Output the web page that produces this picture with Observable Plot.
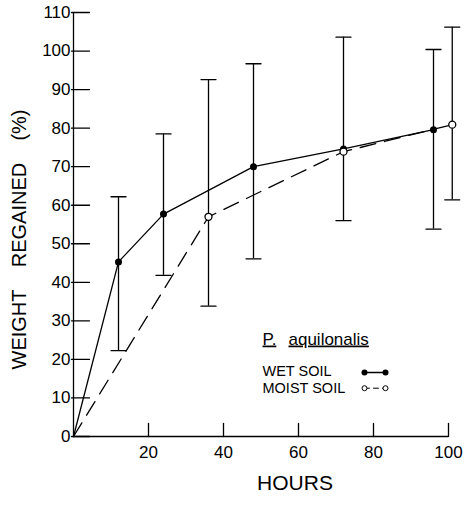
<!DOCTYPE html>
<html><head><meta charset="utf-8">
<script src="https://cdn.jsdelivr.net/npm/d3@7"></script>
<script src="https://cdn.jsdelivr.net/npm/@observablehq/plot@0.6"></script>
<style>body{margin:0;background:#fff}</style>
</head><body><div id="chart"></div>
<script>
// Wet soil series (filled circles, solid line)
const wetHours = [0, 12, 24, 48, 72, 96];
const wetRegained = [0, 45.3, 57.7, 70.0, 74.6, 79.6];
// Moist soil series (open circles, dashed line)
const moistHours = [0, 36, 72, 101];
const moistRegained = [0, 57.0, 73.9, 80.9];
// Error bars
const errHours = [12, 24, 36, 48, 72, 96, 101];
const errLow = [22.3, 41.8, 33.8, 46.1, 56.0, 53.8, 61.4];
const errHigh = [62.2, 78.5, 92.6, 96.7, 103.6, 100.4, 106.2];
// Ticks
const xTicks = [20, 40, 60, 80, 100];
const yTicks = [0, 10, 20, 30, 40, 50, 60, 70, 80, 90, 100, 110];

const wet = wetHours.map((h, i) => ({h, v: wetRegained[i]}));
const moist = moistHours.map((h, i) => ({h, v: moistRegained[i]}));
const errs = errHours.map((h, i) => ({h, lo: errLow[i], hi: errHigh[i]}));

const lineShape = {draw(context, l) { context.moveTo(0, 0); context.lineTo(0, -l); }};
const font = "'Liberation Sans', Arial, sans-serif";
const sw = 1.3;
const gap = "\u00a0\u00a0\u00a0\u00a0";

const plot = Plot.plot({
  width: 466, height: 508,
  marginLeft: 73, marginRight: 18, marginTop: 12, marginBottom: 72,
  style: {fontFamily: font, background: "white", color: "black"},
  x: {domain: [0, 100]},
  y: {domain: [0, 110]},
  marks: [
    // axis lines
    Plot.ruleX([0], {stroke: "black", strokeWidth: sw}),
    Plot.ruleY([0], {stroke: "black", strokeWidth: sw}),
    // inward ticks
    Plot.vector(yTicks, {x: 0, y: d => d, rotate: 90, length: 18, anchor: "start", dx: -2, shape: lineShape, stroke: "black", strokeWidth: sw}),
    Plot.vector(xTicks, {x: d => d, y: 0, rotate: 0, length: 13, anchor: "start", shape: lineShape, stroke: "black", strokeWidth: sw}),
    // tick labels
    Plot.axisY(yTicks, {tickSize: 0, tickPadding: 3, fontSize: 17, tickFormat: d => d, label: null}),
    Plot.axisX(xTicks, {tickSize: 0, tickPadding: 9, fontSize: 17, tickFormat: d => d, label: null}),
    // axis titles
    Plot.text(["HOURS"], {text: d => d, frameAnchor: "bottom", lineAnchor: "middle", textAnchor: "middle", dx: 34, dy: 47, fontSize: 21}),
    Plot.text(["WEIGHT" + gap + "REGAINED" + gap + "(%)"], {text: d => d, frameAnchor: "left", lineAnchor: "middle", textAnchor: "middle", rotate: -90, dx: -54, dy: 15, fontSize: 20}),
    // error bars
    Plot.ruleX(errs, {x: "h", y1: "lo", y2: "hi", stroke: "black", strokeWidth: sw}),
    Plot.vector(errs, {x: "h", y: "lo", rotate: 90, length: 15, anchor: "middle", shape: lineShape, stroke: "black", strokeWidth: sw}),
    Plot.vector(errs, {x: "h", y: "hi", rotate: 90, length: 15, anchor: "middle", shape: lineShape, stroke: "black", strokeWidth: sw}),
    // lines
    Plot.line(wet, {x: "h", y: "v", stroke: "black", strokeWidth: sw}),
    Plot.line(moist, {x: "h", y: "v", stroke: "black", strokeWidth: sw, strokeDasharray: "16,9"}),
    // points
    Plot.dot(wet, {x: "h", y: "v", r: 3.5, fill: "black", filter: d => d.h > 0}),
    Plot.dot(moist, {x: "h", y: "v", r: 3.5, fill: "white", stroke: "black", strokeWidth: sw, filter: d => d.h > 0}),
    // legend
    Plot.text(["P."], {text: d => d, frameAnchor: "top-left", lineAnchor: "middle", dx: 189, dy: 326.6, textAnchor: "start", fontSize: 17}),
    Plot.text(["aquilonalis"], {text: d => d, frameAnchor: "top-left", lineAnchor: "middle", dx: 215, dy: 326.6, textAnchor: "start", fontSize: 17}),
    Plot.text(["WET SOIL"], {text: d => d, frameAnchor: "top-left", lineAnchor: "middle", dx: 189, dy: 359.1, textAnchor: "start", fontSize: 14.5}),
    Plot.text(["MOIST SOIL"], {text: d => d, frameAnchor: "top-left", lineAnchor: "middle", dx: 189, dy: 375.4, textAnchor: "start", fontSize: 14.5}),
    Plot.vector([0], {frameAnchor: "top-left", dx: 291, dy: 360, rotate: 90, length: 21, anchor: "start", shape: lineShape, stroke: "black", strokeWidth: 1.6}),
    Plot.dot([0], {frameAnchor: "top-left", dx: 291, dy: 360, r: 3, fill: "black"}),
    Plot.dot([0], {frameAnchor: "top-left", dx: 312, dy: 360, r: 3, fill: "black"}),
    Plot.vector([0], {frameAnchor: "top-left", dx: 291, dy: 375.7, rotate: 90, length: 21, anchor: "start", shape: lineShape, stroke: "black", strokeWidth: 1, strokeDasharray: "5,4"}),
    Plot.dot([0], {frameAnchor: "top-left", dx: 291, dy: 375.7, r: 2.5, fill: "white", stroke: "black", strokeWidth: 1}),
    Plot.dot([0], {frameAnchor: "top-left", dx: 312, dy: 375.7, r: 2.5, fill: "white", stroke: "black", strokeWidth: 1})
  ]
});
plot.querySelectorAll("text").forEach(t => {
  if (t.textContent === "P." || t.textContent === "aquilonalis") t.style.textDecoration = "underline";
});
document.getElementById("chart").appendChild(plot);
</script>
</body></html>
